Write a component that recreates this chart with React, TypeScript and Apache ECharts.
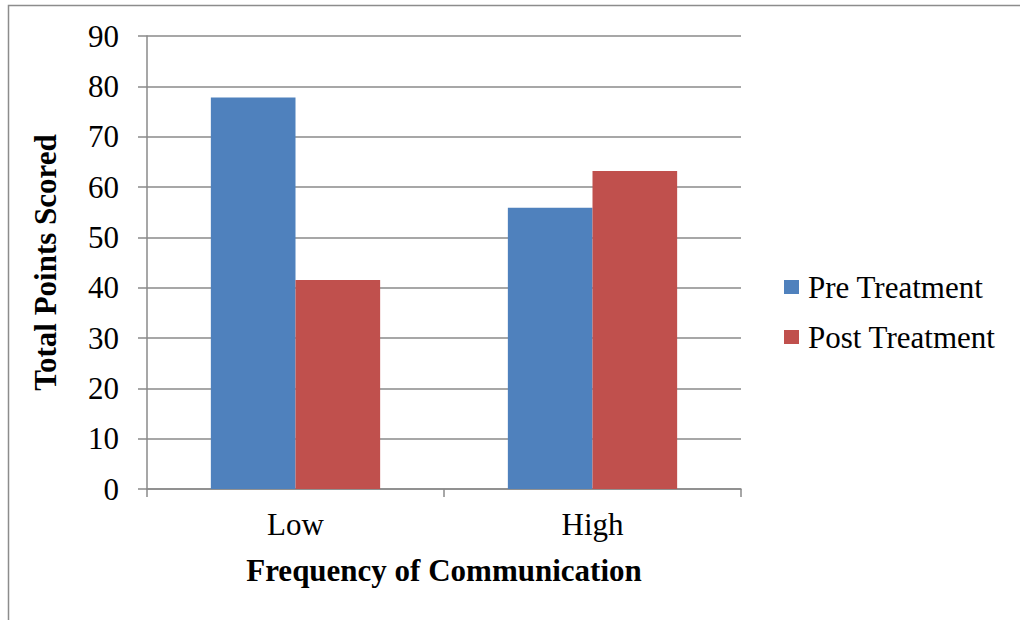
import React, { useEffect, useRef } from "react";
import * as echarts from "echarts";

// Total points scored by communication frequency, before and after treatment
const categories = ["Low", "High"];
const seriesNames = ["Pre Treatment", "Post Treatment"];
const preTreatment = [77.8, 55.9];
const postTreatment = [41.5, 63.2];
const yTicks = { min: 0, max: 90, interval: 10 };

const FONT = "Liberation Serif";
const GRID_GRAY = "#8a8a8a";

export default function App() {
  const ref = useRef<HTMLDivElement | null>(null);

  useEffect(() => {
    if (!ref.current) return;
    const chart = echarts.init(ref.current, undefined, { renderer: "svg" });
    chart.setOption({
      animation: false,
      backgroundColor: "#ffffff",
      textStyle: { fontFamily: FONT, color: "#000" },
      graphic: [
        {
          type: "rect",
          shape: { x: 8.5, y: 5.5, width: 1200, height: 800 },
          style: { fill: "none", stroke: "#8c8c8c", lineWidth: 1.5 },
          silent: true,
        },
      ],
      grid: { left: 147, right: 279, top: 36, bottom: 131, containLabel: false },
      legend: {
        orient: "vertical",
        left: 779,
        top: 264,
        itemWidth: 15,
        itemHeight: 14,
        itemGap: 14,
        icon: "rect",
        data: seriesNames,
        textStyle: {
          fontFamily: FONT,
          fontSize: 31,
          color: "#000",
          lineHeight: 36,
          padding: [0, 0, 0, 4],
        },
      },
      xAxis: {
        type: "category",
        data: categories,
        name: "Frequency of Communication",
        nameLocation: "middle",
        nameGap: 66,
        nameTextStyle: { fontFamily: FONT, fontSize: 31, fontWeight: "bold", color: "#000" },
        axisLine: { lineStyle: { color: GRID_GRAY, width: 1.5 } },
        axisTick: { show: true, length: 8, lineStyle: { color: GRID_GRAY, width: 1.5 } },
        axisLabel: { fontFamily: FONT, fontSize: 31, color: "#000", margin: 20 },
      },
      yAxis: {
        type: "value",
        min: yTicks.min,
        max: yTicks.max,
        interval: yTicks.interval,
        name: "Total Points Scored",
        nameLocation: "middle",
        nameGap: 86,
        nameRotate: 90,
        nameTextStyle: { fontFamily: FONT, fontSize: 31, fontWeight: "bold", color: "#000" },
        axisLine: { show: true, lineStyle: { color: GRID_GRAY, width: 1.5 } },
        axisTick: { show: true, length: 9, lineStyle: { color: GRID_GRAY, width: 1.5 } },
        axisLabel: { fontFamily: FONT, fontSize: 31, color: "#000", margin: 28 },
        splitLine: { show: true, lineStyle: { color: GRID_GRAY, width: 1.5 } },
      },
      series: [
        {
          name: seriesNames[0],
          type: "bar",
          data: preTreatment,
          barGap: "0%",
          barCategoryGap: "43%",
          itemStyle: { color: "#4F81BD" },
        },
        {
          name: seriesNames[1],
          type: "bar",
          data: postTreatment,
          barGap: "0%",
          barCategoryGap: "43%",
          itemStyle: { color: "#C0504D" },
        },
      ],
    });
    return () => chart.dispose();
  }, []);

  return (
    <div
      ref={ref}
      style={{ position: "fixed", left: 0, top: 0, width: 1020, height: 620 }}
    />
  );
}
